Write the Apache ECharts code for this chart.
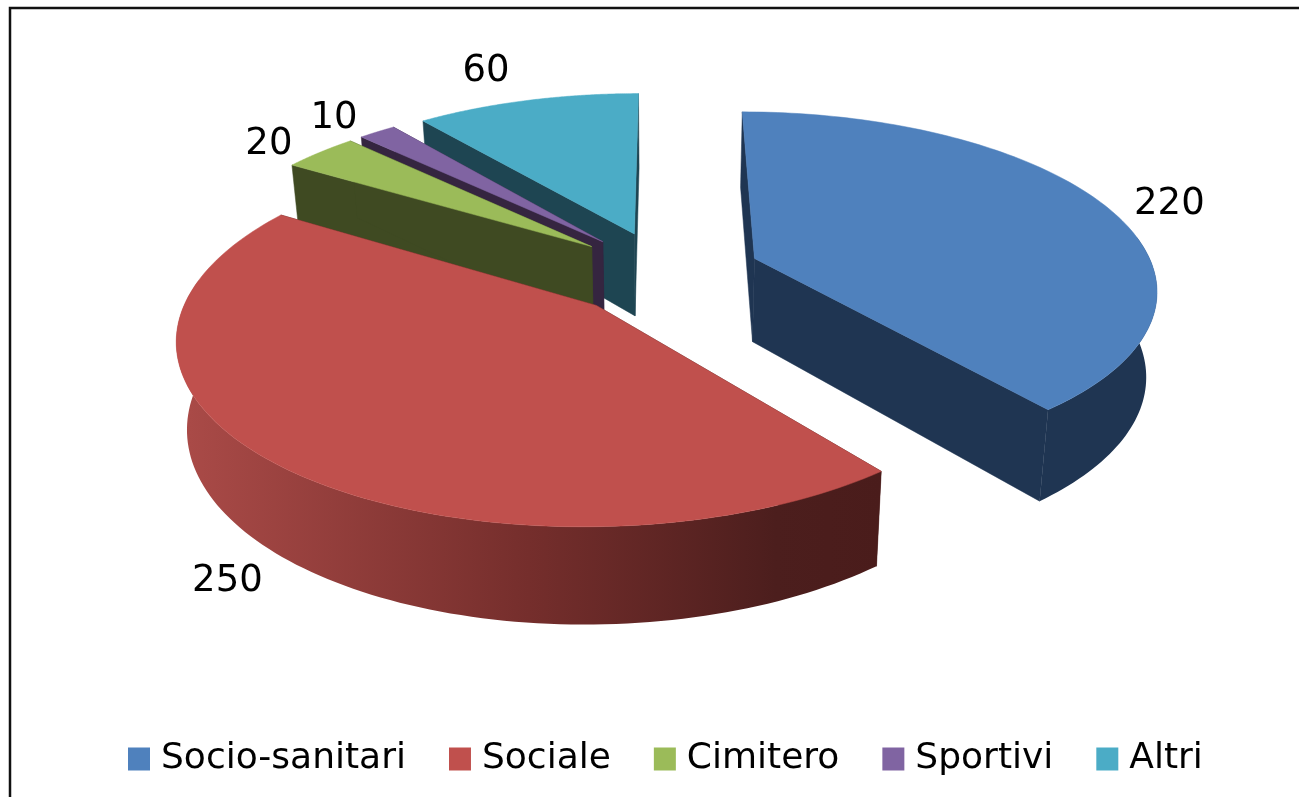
<!DOCTYPE html>
<html><head><meta charset="utf-8">
<style>html,body{margin:0;padding:0;background:#fff}#c{width:1299px;height:797px}</style>
<script src="https://cdn.jsdelivr.net/npm/echarts@6/dist/echarts.min.js"></script>
</head><body><div id="c"></div>
<script>
const categories = ['Socio-sanitari', 'Sociale', 'Cimitero', 'Sportivi', 'Altri'];
const values = [220, 250, 20, 10, 60];
const topColors = ['#4f81bd', '#c0504d', '#9bbb59', '#8064a2', '#4bacc6'];
const wallColors = ['#1f3552', '#481a18', '#3f4a22', '#352540', '#1e4552'];
const outerWallStops = [
  [[0, '#1f3552'], [1, '#1f3552']],
  [[0, '#ab4b48'], [0.5, '#752e2c'], [0.85, '#4c1e1d'], [1, '#4a1c1b']],
  [[0, '#3f4a22'], [1, '#3f4a22']],
  [[0, '#352540'], [1, '#352540']],
  [[0, '#1e4552'], [1, '#1e4552']]
];
const explodes = [0.24, 0.25, 0.24, 0.24, 0.24];
const labelNudge = [[65, -1], [-46, 119], [-51, -8], [-43, -13], [-41, -29]];
const drawOrder = [4, 3, 2, 0, 1];

const view = { cx: 665, cy: 272, rx: 400, ry: 174, persp: 0.16, depth: 84, wallPersp: 0.7, converge: 0.022 };
const total = values.reduce((a, b) => a + b, 0);
const starts = values.map((v, i) => values.slice(0, i).reduce((a, b) => a + b, 0) / total * Math.PI * 2);
const sweeps = values.map(v => v / total * Math.PI * 2);

function project(px, py, down) {
  const s = 1 / (1 - view.persp * py);
  const d = down ? view.depth * (1 + view.wallPersp * (s - 1)) : 0;
  const k = down ? 1 - view.converge : 1;
  return [view.cx + view.rx * px * s * k, view.cy + view.ry * py * s + d];
}
function groundPoint(i, angle, r) {
  const mid = starts[i] + sweeps[i] / 2;
  return [explodes[i] * Math.sin(mid) + r * Math.sin(angle), -explodes[i] * Math.cos(mid) - r * Math.cos(angle)];
}
function poly(points, fill, z) {
  const stroke = typeof fill === 'string' ? fill : null;
  return { type: 'polygon', z2: z, shape: { points }, style: { fill, stroke, lineWidth: stroke ? 0.5 : 0 }, silent: true };
}
function sliceShapes(i) {
  const steps = 120, arc = [], angles = [];
  for (let k = 0; k <= steps; k++) {
    const a = starts[i] + sweeps[i] * k / steps;
    angles.push(a);
    arc.push(groundPoint(i, a, 1));
  }
  const apex = groundPoint(i, 0, 0);
  const kids = [];
  [arc[0], arc[steps]].forEach(p => {
    kids.push(poly([project(apex[0], apex[1]), project(p[0], p[1]), project(p[0], p[1], true), project(apex[0], apex[1], true)], wallColors[i], 1));
  });
  const top = arc.map(p => project(p[0], p[1]));
  // the outer wall faces the viewer only on the near half of the circle
  const near = arc.filter((p, k) => Math.cos(angles[k]) < 0.15);
  if (near.length > 1) {
    const nearTop = near.map(p => project(p[0], p[1]));
    const nearBottom = near.map(p => project(p[0], p[1], true));
    const xs = nearTop.map(p => p[0]);
    const grad = new echarts.graphic.LinearGradient(Math.min(...xs), 0, Math.max(...xs), 0,
      outerWallStops[i].map(s => ({ offset: s[0], color: s[1] })), true);
    kids.push(poly(nearTop.concat(nearBottom.reverse()), grad, 2));
  }
  kids.push(poly([project(apex[0], apex[1])].concat(top), topColors[i], 3));
  const m = groundPoint(i, starts[i] + sweeps[i] / 2, 1);
  const lp = project(m[0], m[1]);
  kids.push({ type: 'text', z2: 4, silent: true, style: {
    text: String(values[i]), x: lp[0] + labelNudge[i][0], y: lp[1] + labelNudge[i][1],
    align: 'center', verticalAlign: 'middle', fill: '#000',
    font: '37px "DejaVu Sans"' } });
  return { type: 'group', children: kids };
}
const series = categories.map((name, i) => ({
  type: 'custom', name, coordinateSystem: 'none', silent: true, animation: false,
  z: 2 + drawOrder.indexOf(i),
  itemStyle: { color: topColors[i] },
  data: [[values[i]]],
  renderItem: () => sliceShapes(i)
}));
const chart = echarts.init(document.getElementById('c'), null, { renderer: 'canvas' });
chart.setOption({
  animation: false,
  backgroundColor: '#fff',
  legend: {
    data: categories, left: 128, top: 741, orient: 'horizontal', icon: 'rect',
    itemWidth: 22, itemHeight: 23, itemGap: 43, selectedMode: false, padding: 0,
    textStyle: { fontFamily: 'DejaVu Sans', fontSize: 36, color: '#000', padding: [0, 0, 0, 6] }
  },
  graphic: [
    { type: 'polyline', silent: true, shape: { points: [[10, 797], [10, 8], [1299, 8]] }, style: { stroke: '#111', lineWidth: 2.5, fill: null } }
  ],
  series
});
</script></body></html>
